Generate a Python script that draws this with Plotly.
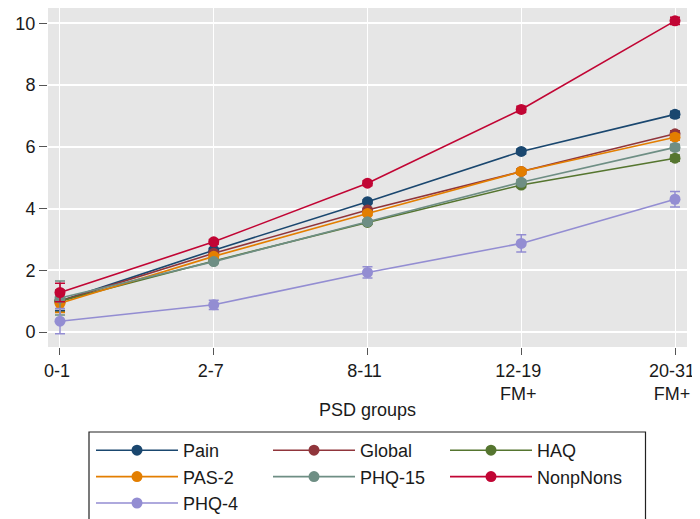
import plotly.graph_objects as go

categories = ["0-1", "2-7", "8-11", "12-19<br>FM+", "20-31<br>FM+"]
x_pos = [0, 1, 2, 3, 4]

series_names = ["Pain", "Global", "HAQ", "PAS-2", "PHQ-15", "NonpNons", "PHQ-4"]
pain = [1.00, 2.65, 4.22, 5.85, 7.05]
global_ = [1.00, 2.55, 3.95, 5.20, 6.42]
haq = [1.00, 2.30, 3.55, 4.76, 5.63]
pas2 = [0.93, 2.45, 3.84, 5.20, 6.31]
phq15 = [1.10, 2.28, 3.57, 4.85, 5.98]
nonpnons = [1.28, 2.92, 4.82, 7.21, 10.08]
phq4 = [0.35, 0.88, 1.93, 2.87, 4.30]

pain_err = [0.30, 0.06, 0.06, 0.08, 0.10]
global_err = [0.35, 0.06, 0.06, 0.08, 0.10]
haq_err = [0.35, 0.06, 0.06, 0.08, 0.10]
pas2_err = [0.30, 0.06, 0.06, 0.08, 0.10]
phq15_err = [0.55, 0.06, 0.06, 0.08, 0.10]
nonpnons_err = [0.30, 0.08, 0.08, 0.10, 0.12]
phq4_err = [0.41, 0.15, 0.18, 0.28, 0.25]

colors = ["#1a476f", "#90353b", "#55752f", "#e37e00", "#6e8e84", "#c10534", "#938dd2"]
values = [pain, global_, haq, pas2, phq15, nonpnons, phq4]
errors = [pain_err, global_err, haq_err, pas2_err, phq15_err, nonpnons_err, phq4_err]

y_ticks = [0, 2, 4, 6, 8, 10]

FONT = "Liberation Sans, Arial, Helvetica, sans-serif"
FS = 18

fig = go.Figure()
for name, vals, errs, col in zip(series_names, values, errors, colors):
    fig.add_trace(go.Scatter(
        x=x_pos, y=vals, name=name, mode="lines+markers",
        line=dict(color=col, width=1.6),
        marker=dict(color=col, size=11),
        error_y=dict(type="data", array=errs, visible=True, color=col,
                     thickness=1.5, width=5),
    ))

# page body has an 8px margin; figure is sized to fit the 700x519 window
OFF = 8
W, H = 692, 511
L, R, T, B = 40, 13, 0, 172
pw = W - L - R
ph = H - T - B


def px_x(screen_x):
    return (screen_x - OFF - L) / pw


def px_y(screen_y):
    return (H - B - (screen_y - OFF)) / ph


fig.update_layout(
    width=W, height=H,
    margin=dict(l=L, r=R, t=T, b=B, autoexpand=False),
    paper_bgcolor="white",
    plot_bgcolor="#e6e6e6",
    font=dict(family=FONT, size=FS, color="#1a1a1a"),
    showlegend=True,
    legend=dict(
        orientation="h",
        x=px_x(91), y=px_y(432), xanchor="left", yanchor="top",
        entrywidth=80, entrywidthmode="pixels",
        itemwidth=82,
        bgcolor="rgba(0,0,0,0)", borderwidth=0,
        font=dict(family=FONT, size=FS, color="#1a1a1a"),
        traceorder="normal",
    ),
    xaxis=dict(
        range=[-0.078, 4.078],
        tickmode="array", tickvals=x_pos, ticktext=categories,
        showgrid=True, gridcolor="white", gridwidth=1.2,
        zeroline=False, showline=False,
        ticks="outside", ticklen=7, tickcolor="#555555", tickwidth=1,
        tickfont=dict(family=FONT, size=FS, color="#1a1a1a"),
        ticklabelshift=-3,
        fixedrange=True,
    ),
    yaxis=dict(
        range=[-0.486, 10.496],
        tickmode="array", tickvals=y_ticks,
        showgrid=True, gridcolor="white", gridwidth=1.5,
        zeroline=False, showline=False,
        ticks="outside", ticklen=8, tickcolor="#555555", tickwidth=1,
        tickfont=dict(family=FONT, size=FS, color="#1a1a1a"),
        fixedrange=True,
    ),
    annotations=[dict(
        text="PSD groups", xref="paper", yref="paper",
        x=px_x(367), y=px_y(410), xanchor="center", yanchor="middle",
        showarrow=False, font=dict(family=FONT, size=FS, color="#1a1a1a"),
    )],
    shapes=[dict(
        type="rect", xref="paper", yref="paper",
        x0=px_x(89), x1=px_x(645.5), y0=px_y(432), y1=px_y(540),
        line=dict(color="#222222", width=1.2), fillcolor="rgba(0,0,0,0)",
    )],
)

fig.write_html("out.html")
